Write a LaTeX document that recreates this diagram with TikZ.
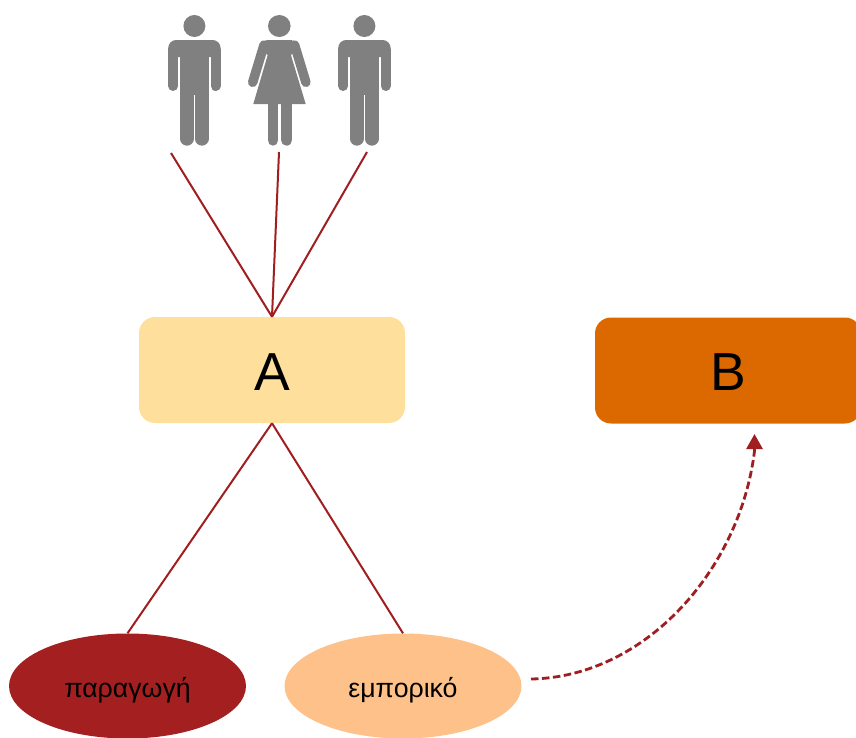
\documentclass[tikz,border=0pt]{standalone}
\usepackage{fontspec}
\setmainfont{Liberation Sans}
\usetikzlibrary{arrows.meta,shapes.geometric}
\definecolor{figgray}{HTML}{808080}
\definecolor{linkred}{HTML}{A01E20}
\definecolor{boxa}{HTML}{FEE09C}
\definecolor{boxb}{HTML}{DC6900}
\definecolor{ellred}{HTML}{A31F20}
\definecolor{ellpeach}{HTML}{FFC18A}
\tikzset{
  x=1pt,y=-1pt,
  bigbox/.style={rectangle,rounded corners=16pt,minimum height=106pt,inner sep=0pt,text height=40pt,text depth=0pt,font=\fontsize{53.5}{60}\selectfont},
  oval/.style={ellipse,minimum width=237pt,minimum height=105pt,inner sep=0pt,text height=22.6pt,text depth=0pt,font=\fontsize{26.7}{30}\selectfont},
  link/.style={draw=linkred,line width=2pt},
  dashlink/.style={draw=linkred,line width=2.8pt,dash pattern=on 7.5pt off 3.5pt,-{Triangle[length=15pt,width=16pt,sep=0pt]}},
  man/.pic={
    \fill[figgray] (0,26) circle[radius=11];
    \fill[figgray,rounded corners=8pt] (-26.2,57) -- (-26.2,40) -- (26.2,40) -- (26.2,57) -- cycle;
    \fill[figgray] (-14.3,50) rectangle (14.3,95);
    \draw[figgray,line width=10pt,line cap=round] (-21.2,50) -- (-21.2,86);
    \draw[figgray,line width=10pt,line cap=round] (21.2,50) -- (21.2,86);
    \draw[figgray,line width=13.7pt,line cap=round] (-7.45,90) -- (-7.45,138.8);
    \draw[figgray,line width=13.7pt,line cap=round] (7.45,90) -- (7.45,138.8);
  },
  woman/.pic={
    \fill[figgray] (0,26) ellipse[x radius=11.3,y radius=11];
    \fill[figgray] (-13,40) -- (13,40) -- (14,53) -- (11.6,55) -- (26.4,104) -- (-26,104) -- (-11.6,55) -- (-14,53) -- cycle;
    \draw[figgray,line width=9.5pt,line cap=round] (-15.3,45) -- (-26.6,82.3);
    \draw[figgray,line width=9.5pt,line cap=round] (15.3,45) -- (26.6,82.3);
    \draw[figgray,line width=10.8pt,line cap=round] (-6.3,100) -- (-6.3,140.3);
    \draw[figgray,line width=11.2pt,line cap=round] (7.3,100) -- (7.3,140.1);
  }
}
\begin{document}
\begin{tikzpicture}
\useasboundingbox (0,0) rectangle (856,737);
\clip (0,0) rectangle (856,737);
\pic at (194.4,0) {man};
\pic at (279.3,0) {woman};
\pic at (364.4,0) {man};
\node[bigbox,fill=boxa,minimum width=266pt] (A) at (272,370) {A};
\node[bigbox,fill=boxb,minimum width=266pt] (B) at (728,370.5) {B};
\node[oval,fill=ellred] (P) at (127.5,686) {παραγωγή};
\node[oval,fill=ellpeach] (E) at (403,686) {εμπορικό};
\coordinate (p1) at (171,153);
\coordinate (p2) at (279,152);
\coordinate (p3) at (367,152);
\coordinate (cs) at (531,679);
\coordinate (cm) at (754.5,451);
\coordinate (ce) at (754.5,434);
\draw[link] (p1) -- (A.north);
\draw[link] (p2) -- (A.north);
\draw[link] (p3) -- (A.north);
\draw[link] (A.south) -- (P.north);
\draw[link] (A.south) -- (E.north);
\draw[dashlink] (cs) .. controls (645,677) and (740,570) .. (cm) -- (ce);
\end{tikzpicture}
\end{document}
